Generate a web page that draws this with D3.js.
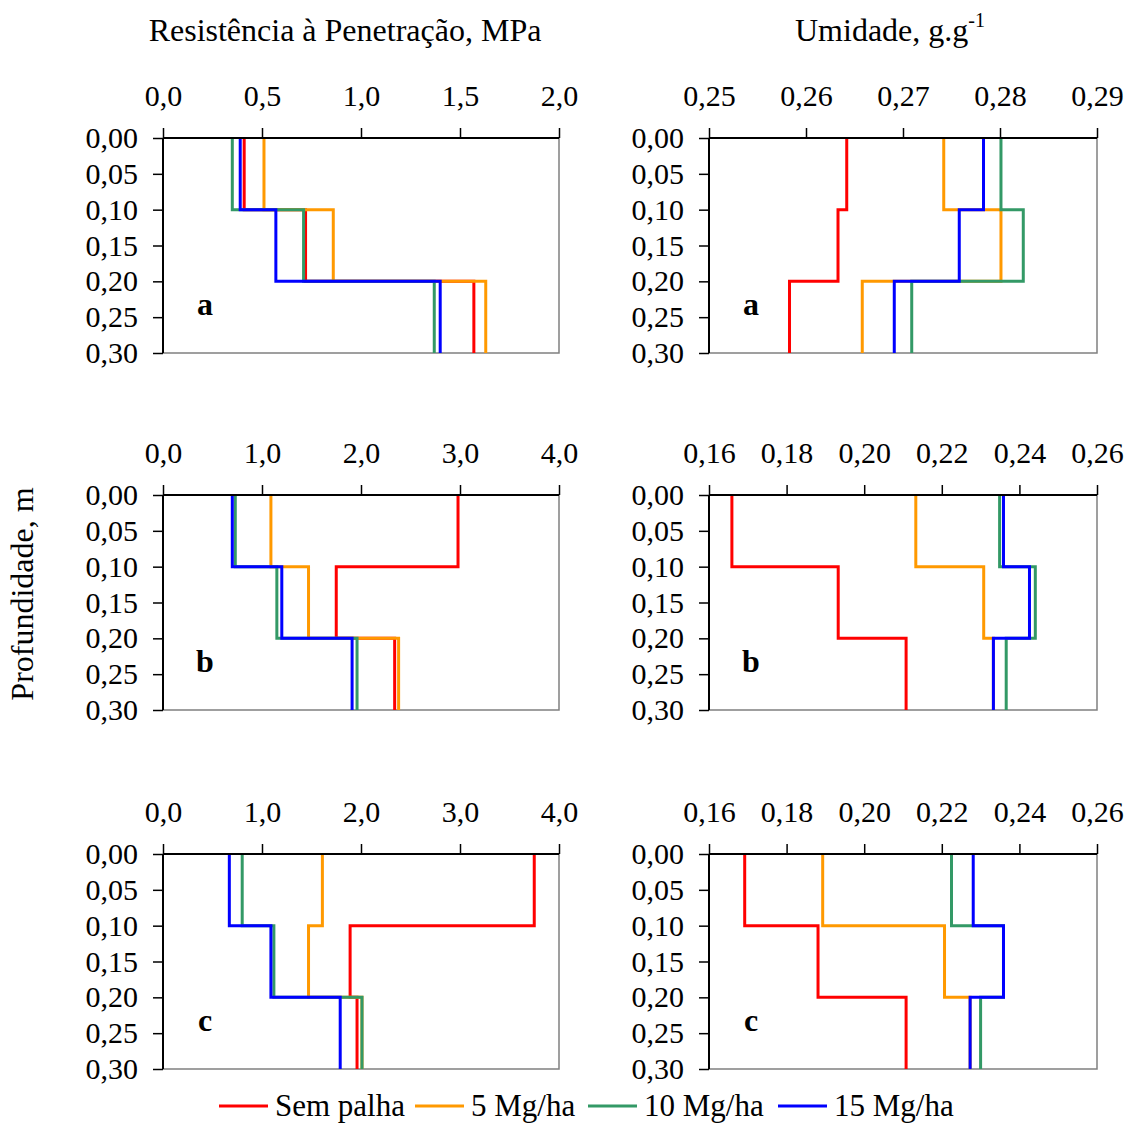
<!DOCTYPE html>
<html>
<head>
<meta charset="utf-8">
<script src="https://cdn.jsdelivr.net/npm/d3@7"></script>
<style>
  body { margin: 0; background: #fff; }
  text { font-family: "Liberation Serif", "Times New Roman", serif; fill: #000; }
</style>
</head>
<body>
<svg id="chart" width="1127" height="1124"></svg>
<script>
// Profile data: layer boundaries and one value per layer (0-0.1, 0.1-0.2, 0.2-0.3 m)
const depths = [0, 0.1, 0.2, 0.3]
const seriesNames = ["Sem palha", "5 Mg/ha", "10 Mg/ha", "15 Mg/ha"]
const seriesColors = ["#ff0000", "#ff9900", "#339966", "#0000ff"]
const depthTicks = [0, 0.05, 0.1, 0.15, 0.2, 0.25, 0.3]

// Resistencia a penetracao (MPa), order = seriesNames
const rpA = [[0.41, 0.72, 1.57], [0.51, 0.86, 1.63], [0.35, 0.71, 1.37], [0.39, 0.57, 1.40]]
const rpB = [[2.98, 1.75, 2.34], [1.09, 1.47, 2.38], [0.73, 1.15, 1.96], [0.70, 1.20, 1.91]]
const rpC = [[3.75, 1.89, 1.96], [1.61, 1.47, 2.01], [0.80, 1.12, 2.01], [0.67, 1.09, 1.79]]

// Umidade (g/g)
const umA = [[0.2642, 0.2633, 0.2583], [0.2742, 0.2801, 0.2658], [0.2801, 0.2824, 0.2709], [0.2783, 0.2758, 0.2691]]
const umB = [[0.1659, 0.1933, 0.2108], [0.2133, 0.2308, 0.2333], [0.2349, 0.2441, 0.2366], [0.2359, 0.2426, 0.2333]]
const umC = [[0.1692, 0.1881, 0.2108], [0.1893, 0.2207, 0.2273], [0.2225, 0.2359, 0.2300], [0.2281, 0.2359, 0.2273]]

const rpTicksA = [0, 0.5, 1.0, 1.5, 2.0]
const rpTicksBC = [0, 1, 2, 3, 4]
const umTicksA = [0.25, 0.26, 0.27, 0.28, 0.29]
const umTicksBC = [0.16, 0.18, 0.20, 0.22, 0.24, 0.26]

const svg = d3.select("#chart")
const comma = (f) => (d) => d3.format(f)(d).replace(".", ",")

// Panel frames
const colLeft = {x0: 163, x1: 559}
const colRight = {x0: 709, x1: 1097}
const rowTops = [138, 495, 854]
const panelH = 215

const panels = [
    {col: colLeft, row: 0, data: rpA, domain: [0, 2], ticks: rpTicksA, fmt: comma(".1f"), letter: "a"},
    {col: colRight, row: 0, data: umA, domain: [0.25, 0.29], ticks: umTicksA, fmt: comma(".2f"), letter: "a"},
    {col: colLeft, row: 1, data: rpB, domain: [0, 4], ticks: rpTicksBC, fmt: comma(".1f"), letter: "b"},
    {col: colRight, row: 1, data: umB, domain: [0.16, 0.26], ticks: umTicksBC, fmt: comma(".2f"), letter: "b"},
    {col: colLeft, row: 2, data: rpC, domain: [0, 4], ticks: rpTicksBC, fmt: comma(".1f"), letter: "c"},
    {col: colRight, row: 2, data: umC, domain: [0.16, 0.26], ticks: umTicksBC, fmt: comma(".2f"), letter: "c"}
]

panels.forEach(function(p) {
    var top = rowTops[p.row]
    var x = d3.scaleLinear().domain(p.domain).range([p.col.x0, p.col.x1])
    var y = d3.scaleLinear().domain([0, 0.3]).range([top, top + panelH])
    var g = svg.append("g")

    // right and bottom border (grey)
    g.append("path")
        .attr("d", "M" + p.col.x1 + "," + top + "V" + (top + panelH) + "H" + p.col.x0)
        .attr("fill", "none")
        .attr("stroke", "#808080")
        .attr("stroke-width", 1.5)

    // step profiles
    var line = d3.line().x((d) => x(d[0])).y((d) => y(d[1]))
    p.data.forEach(function(vals, i) {
        var pts = []
        vals.forEach(function(v, k) {
            pts.push([v, depths[k]])
            pts.push([v, depths[k + 1]])
        })
        g.append("path")
            .datum(pts)
            .attr("d", line)
            .attr("fill", "none")
            .attr("stroke", seriesColors[i])
            .attr("stroke-width", 3)
    })

    var xAxis = g.append("g")
        .attr("transform", "translate(0," + top + ")")
        .call(d3.axisTop(x).tickValues(p.ticks).tickFormat(p.fmt).tickSize(10).tickPadding(22))
    var yAxis = g.append("g")
        .attr("transform", "translate(" + p.col.x0 + ",0)")
        .call(d3.axisLeft(y).tickValues(depthTicks).tickFormat(comma(".2f")).tickSize(10).tickPadding(15))

    ;[xAxis, yAxis].forEach(function(a) {
        a.select(".domain").attr("stroke", "#000").attr("stroke-width", 2)
        a.selectAll(".tick line").attr("stroke", "#000").attr("stroke-width", 1.5)
        a.selectAll("text")
            .attr("font-family", "Liberation Serif, Times New Roman, serif")
            .attr("font-size", 30)
            .attr("fill", "#000")
    })
    xAxis.select(".domain").attr("d", "M" + p.col.x0 + ",0H" + p.col.x1)
    yAxis.select(".domain").attr("d", "M0," + top + "V" + (top + panelH))

    g.append("text")
        .attr("x", p.col.x0 + 42)
        .attr("y", top + 177)
        .attr("text-anchor", "middle")
        .attr("font-size", 32)
        .attr("font-weight", "bold")
        .text(p.letter)
})

// Column titles
svg.append("text")
    .attr("x", 345)
    .attr("y", 41)
    .attr("text-anchor", "middle")
    .attr("font-size", 32)
    .text("Resistência à Penetração, MPa")

var um = svg.append("text")
    .attr("x", 795)
    .attr("y", 41)
    .attr("font-size", 32)
um.append("tspan").text("Umidade, g.g")
um.append("tspan").attr("dy", -14).attr("font-size", 20).text("-1")

// Y label
svg.append("text")
    .attr("transform", "translate(33,594) rotate(-90)")
    .attr("text-anchor", "middle")
    .attr("font-size", 32)
    .text("Profundidade, m")

// Legend
const legendX = [219, 415, 588, 778]
var legend = svg.append("g")
seriesNames.forEach(function(name, i) {
    var lg = legend.append("g").attr("transform", "translate(" + legendX[i] + ",1106)")
    lg.append("line")
        .attr("x1", 0).attr("x2", 49)
        .attr("stroke", seriesColors[i])
        .attr("stroke-width", 3)
    lg.append("text")
        .attr("x", 56)
        .attr("y", 10)
        .attr("font-size", 31)
        .text(name)
})
</script>
</body>
</html>
